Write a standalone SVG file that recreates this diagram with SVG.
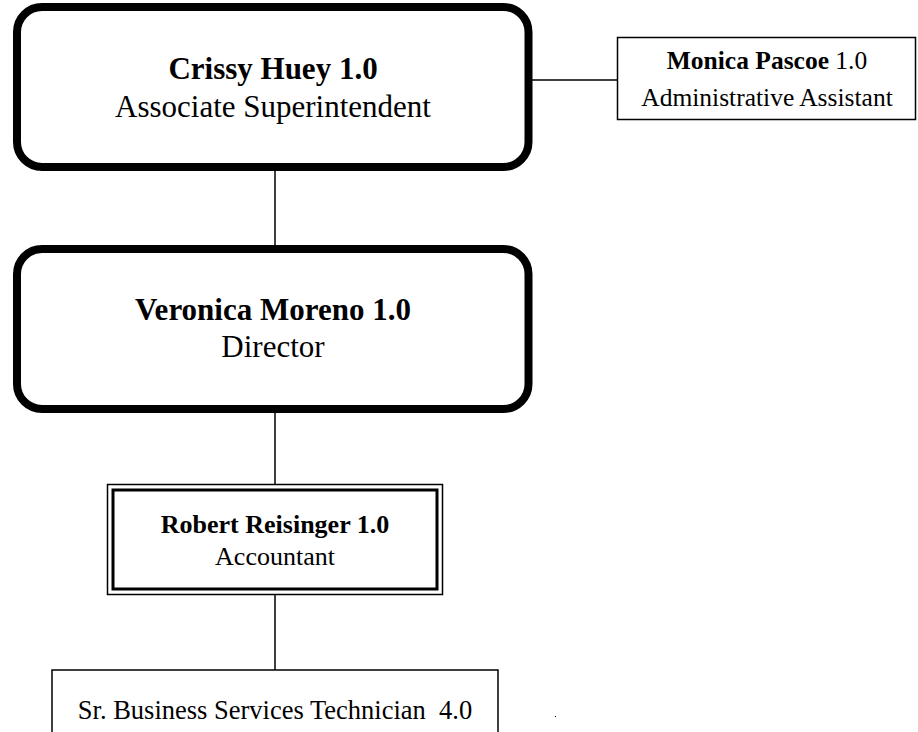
<svg xmlns="http://www.w3.org/2000/svg" width="918" height="732" viewBox="0 0 918 732">
<style>
.big{fill:#fff;stroke:#000;stroke-width:8}
.thin{fill:#fff;stroke:#000;stroke-width:1.5}
.dbl{fill:none;stroke:#000;stroke-width:3}
.conn line{stroke:#000;stroke-width:1.5}
text{font-family:"Liberation Serif","Times New Roman",serif;fill:#000;text-anchor:middle}
.b{font-weight:bold}
</style>
<rect width="918" height="732" fill="#fff"/>
<g class="conn">
<line x1="275" y1="167" x2="275" y2="249"/>
<line x1="522" y1="80" x2="617" y2="80"/>
<line x1="275" y1="409" x2="275" y2="485"/>
<line x1="275" y1="594" x2="275" y2="670"/>
</g>
<g id="crissy">
<rect class="big" x="17" y="7" width="511.5" height="160" rx="25"/>
<text x="273" y="79" font-size="31" class="b">Crissy Huey 1.0</text>
<text x="273" y="117" font-size="31">Associate Superintendent</text>
</g>
<g id="monica">
<rect class="thin" x="617.5" y="37.5" width="298" height="82"/>
<text x="767" y="69" font-size="25.5"><tspan class="b">Monica Pascoe</tspan> 1.0</text>
<text x="767" y="106" font-size="25.5">Administrative Assistant</text>
</g>
<g id="veronica">
<rect class="big" x="17" y="249" width="511.5" height="160" rx="25"/>
<text x="273" y="320" font-size="31" class="b">Veronica Moreno 1.0</text>
<text x="273" y="357" font-size="31">Director</text>
</g>
<g id="robert">
<rect class="thin" x="107.5" y="484.5" width="335" height="110"/>
<rect class="dbl" x="113" y="490" width="324" height="99"/>
<text x="275" y="533" font-size="26" class="b">Robert Reisinger 1.0</text>
<text x="275" y="565" font-size="26">Accountant</text>
</g>
<g id="tech">
<rect class="thin" x="52" y="670" width="446" height="80"/>
<text x="275" y="719" font-size="26.5" xml:space="preserve">Sr. Business Services Technician  4.0</text>
</g>
<rect x="555" y="716" width="1" height="1" fill="#000"/>
</svg>
